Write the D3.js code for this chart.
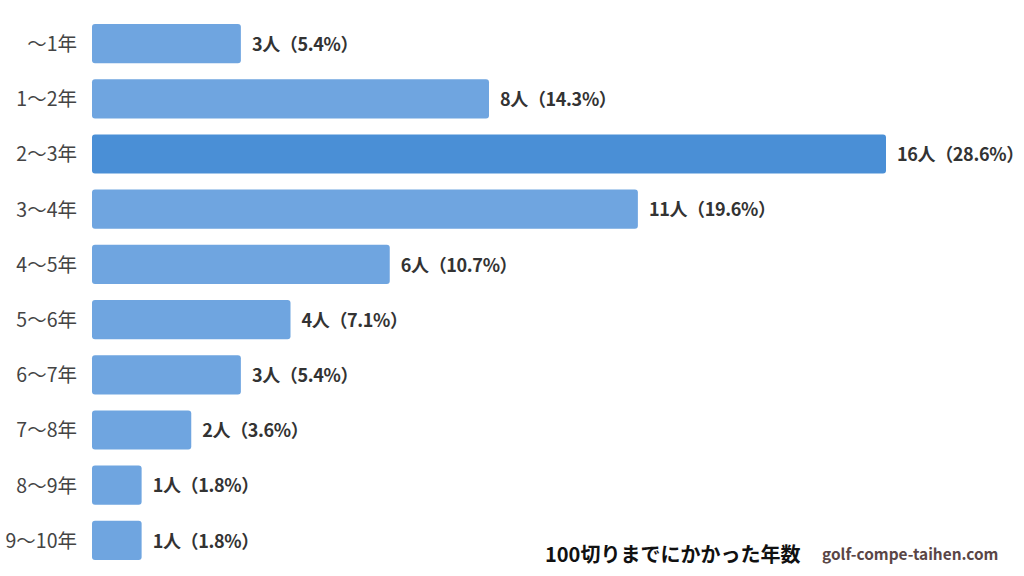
<!DOCTYPE html>
<html><head><meta charset="utf-8">
<script src="https://cdn.jsdelivr.net/npm/d3@7"></script>
<style>body{margin:0;background:#fff}svg{display:block}</style>
</head><body>
<script>
const categories = ["～1年","1～2年","2～3年","3～4年","4～5年","5～6年","6～7年","7～8年","8～9年","9～10年"];
const counts = [3,8,16,11,6,4,3,2,1,1];
const percents = ["5.4%","14.3%","28.6%","19.6%","10.7%","7.1%","5.4%","3.6%","1.8%","1.8%"];
const highlight = "2～3年";
const title = "100切りまでにかかった年数";
const site = "golf-compe-taihen.com";

const W=1024,H=576;
const svg=d3.select("body").append("svg").attr("width",W).attr("height",H);
const font="'Noto Sans CJK JP','Noto Sans',sans-serif";
const x=d3.scaleLinear().domain([0,16]).range([92,886]);
const y=d3.scaleBand().domain(categories).range([16,568]).paddingInner(0.29).paddingOuter(0.145);

const g=svg.append("g");
g.selectAll("rect").data(categories).join("rect")
 .attr("x",x(0)).attr("y",d=>y(d)).attr("width",(d,i)=>x(counts[i])-x(0)).attr("height",y.bandwidth())
 .attr("rx",3).attr("fill",d=>d===highlight?"#4a8fd6":"#6fa5e0");
g.selectAll("text.cat").data(categories).join("text").attr("class","cat")
 .attr("x",77).attr("y",d=>y(d)+y.bandwidth()/2).attr("dy","0.38em").attr("text-anchor","end")
 .attr("font-family",font).attr("font-size",19.5).attr("fill","#444").text(d=>d);
g.selectAll("text.val").data(categories).join("text").attr("class","val")
 .attr("x",(d,i)=>x(counts[i])+11).attr("y",d=>y(d)+y.bandwidth()/2).attr("dy","0.4em")
 .attr("font-family",font).attr("font-size",18).attr("font-weight","bold").attr("fill","#333")
 .attr("letter-spacing","-0.35px")
 .text((d,i)=>counts[i]+"人（"+percents[i]+"）");
svg.append("text").attr("x",545).attr("y",562).attr("font-family",font).attr("font-size",20).attr("font-weight","bold").attr("fill","#111").text(title);
svg.append("text").attr("x",822).attr("y",560).attr("font-family",font).attr("font-size",15.4).attr("font-weight","bold").attr("fill","#5a4646").text(site);
</script>
</body></html>
